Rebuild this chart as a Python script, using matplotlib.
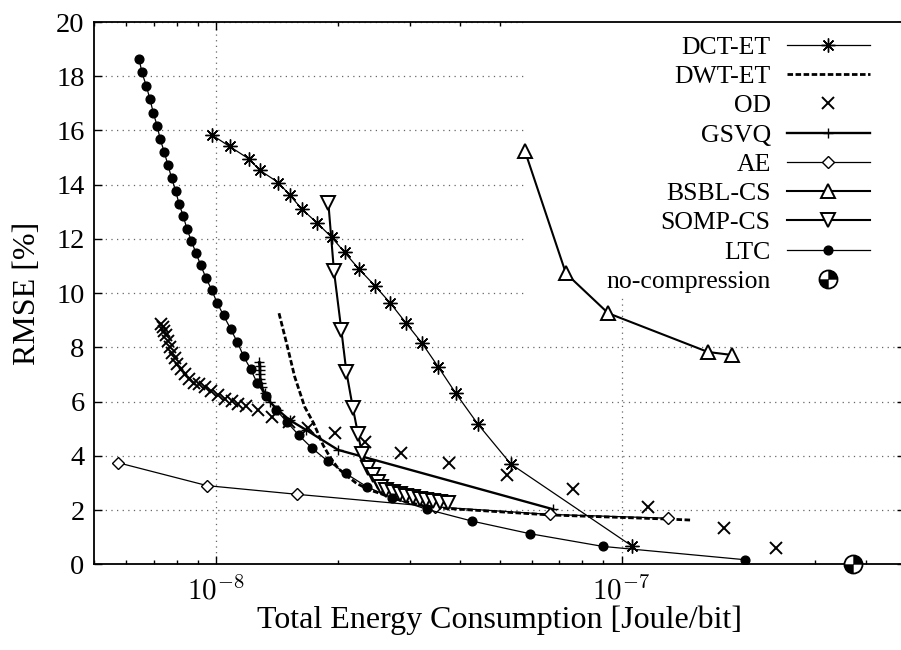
import numpy as np
import matplotlib
matplotlib.use('Agg')
import matplotlib.pyplot as plt
from matplotlib.path import Path
from matplotlib.patches import Rectangle
from matplotlib.legend_handler import HandlerTuple
import matplotlib.ticker as mticker

plt.rcParams['font.family'] = ['Liberation Serif', 'DejaVu Serif']
plt.rcParams['mathtext.fontset'] = 'cm'

# ---------------- data (x in Joule/bit, y in %) ----------------
dct_x = [9.74e-9, 1.079e-8, 1.204e-8, 1.281e-8, 1.422e-8, 1.520e-8, 1.624e-8, 1.769e-8,
         1.927e-8, 2.074e-8, 2.246e-8, 2.460e-8, 2.689e-8, 2.934e-8, 3.220e-8, 3.526e-8,
         3.898e-8, 4.426e-8, 5.330e-8, 1.062e-7]
dct_y = [15.84, 15.41, 14.95, 14.53, 14.08, 13.61, 13.11, 12.60, 12.06, 11.5, 10.9, 10.28,
         9.63, 8.91, 8.15, 7.29, 6.31, 5.16, 3.70, 0.67]

dwt_x = [1.428e-8, 1.491e-8, 1.561e-8, 1.652e-8, 1.739e-8, 1.834e-8, 1.905e-8, 1.997e-8,
         2.113e-8, 2.216e-8, 2.390e-8, 2.530e-8, 2.729e-8, 3.363e-8, 6.653e-8, 1.291e-7, 1.489e-7]
dwt_y = [9.26, 8.15, 6.92, 5.81, 5.20, 4.40, 3.97, 3.54, 3.23, 2.99, 2.74, 2.62, 2.43,
         2.10, 1.82, 1.67, 1.63]

od_x = [7.29e-9, 7.37e-9, 7.45e-9, 7.50e-9, 7.59e-9, 7.67e-9, 7.76e-9, 7.89e-9, 8.02e-9,
        8.16e-9, 8.35e-9, 8.54e-9, 8.79e-9, 9.04e-9, 9.36e-9, 9.68e-9, 1.009e-8, 1.048e-8,
        1.095e-8, 1.130e-8, 1.186e-8, 1.267e-8, 1.373e-8, 1.508e-8, 1.684e-8, 1.959e-8,
        2.324e-8, 2.862e-8, 3.752e-8, 5.219e-8, 7.595e-8, 1.163e-7, 1.792e-7, 2.408e-7]
od_y = [8.85, 8.75, 8.6, 8.45, 8.25, 8.0, 7.8, 7.6, 7.4, 7.2, 7.0, 6.85, 6.7, 6.65, 6.55,
        6.4, 6.24, 6.08, 6.03, 5.93, 5.84, 5.69, 5.44, 5.26, 5.02, 4.86, 4.50, 4.12, 3.72,
        3.29, 2.77, 2.10, 1.33, 0.59]

gsvq_x = [1.275e-8, 1.279e-8, 1.279e-8, 1.281e-8, 1.283e-8, 1.286e-8, 1.294e-8, 1.316e-8,
          1.354e-8, 1.417e-8, 1.517e-8, 1.668e-8, 1.997e-8, 6.778e-8]
gsvq_y = [7.45, 7.3, 7.15, 7.0, 6.85, 6.7, 6.55, 6.3, 6.0, 5.7, 5.32, 4.95, 4.22, 2.03]

ae_x = [5.71e-9, 9.50e-9, 1.585e-8, 3.46e-8, 6.65e-8, 1.299e-7]
ae_y = [3.75, 2.90, 2.58, 2.12, 1.84, 1.70]

bsbl_x = [5.77e-8, 7.29e-8, 9.27e-8, 1.634e-7, 1.872e-7]
bsbl_y = [15.26, 10.73, 9.26, 7.83, 7.72]

somp_x = [1.890e-8, 1.951e-8, 2.035e-8, 2.094e-8, 2.174e-8, 2.237e-8, 2.291e-8, 2.368e-8,
          2.436e-8, 2.506e-8, 2.555e-8, 2.629e-8, 2.729e-8, 2.835e-8, 2.945e-8, 3.058e-8,
          3.177e-8, 3.300e-8, 3.426e-8, 3.559e-8, 3.732e-8]
somp_y = [13.34, 10.83, 8.64, 7.10, 5.75, 4.81, 4.05, 3.54, 3.29, 3.05, 2.86, 2.74, 2.68,
          2.59, 2.52, 2.47, 2.42, 2.37, 2.34, 2.31, 2.25]

ltc_x = [6.45e-9, 6.55e-9, 6.72e-9, 6.86e-9, 6.99e-9, 7.14e-9, 7.27e-9, 7.44e-9, 7.60e-9,
         7.76e-9, 7.94e-9, 8.09e-9, 8.29e-9, 8.46e-9, 8.67e-9, 8.91e-9, 9.16e-9, 9.43e-9,
         9.75e-9, 1.004e-8, 1.042e-8, 1.085e-8, 1.127e-8, 1.168e-8, 1.215e-8, 1.262e-8,
         1.327e-8, 1.406e-8, 1.498e-8, 1.598e-8, 1.724e-8, 1.883e-8, 2.086e-8, 2.353e-8,
         2.709e-8, 3.306e-8, 4.287e-8, 5.937e-8, 8.99e-8, 2.012e-7]
ltc_y = [18.64, 18.15, 17.64, 17.15, 16.66, 16.18, 15.69, 15.20, 14.72, 14.24, 13.77, 13.30,
         12.84, 12.38, 11.94, 11.48, 11.02, 10.56, 10.11, 9.65, 9.18, 8.68, 8.19, 7.67, 7.20,
         6.68, 6.19, 5.69, 5.23, 4.76, 4.28, 3.81, 3.35, 2.86, 2.45, 2.03, 1.59, 1.13, 0.66, 0.17]

nocomp_x = [3.73e-7]
nocomp_y = [0.0]

labels = ['DCT-ET', 'DWT-ET', 'OD', 'GSVQ', 'AE', 'BSBL-CS', 'SOMP-CS', 'LTC', 'no-compression']
xtick_vals = [1e-8, 1e-7]
xtick_labels = [r'$10^{-8}$', r'$10^{-7}$']
ytick_vals = list(range(0, 21, 2))

# ---------------- figure ----------------
W, H = 901, 650
fig = plt.figure(figsize=(W / 100, H / 100), dpi=100)
L, R, T, B = 94.3, 904.8, 22.0, 564.3
ax = fig.add_axes([L / W, (H - B) / H, (R - L) / W, (B - T) / H])
ax.set_xscale('log')
ax.set_xlim(5e-9, 5e-7)
ax.set_ylim(0, 20)
ax.set_axisbelow(True)

ax.grid(True, which='major', color='0.4', linestyle=(0, (1, 3.5)), linewidth=0.9)

# white legend background hiding grid
ax.add_patch(Rectangle((0.534, 0.495), 0.5, 0.6, transform=ax.transAxes,
                       facecolor='white', edgecolor='none', zorder=1))

h_dct, = ax.plot(dct_x, dct_y, color='k', lw=0.9, marker=(8, 2, 0), ms=10, mew=1.0, zorder=3)
h_dwt, = ax.plot(dwt_x, dwt_y, color='k', lw=2.0, linestyle=(0, (2.0, 0.9)), zorder=3)
h_od, = ax.plot(od_x, od_y, color='k', linestyle='none', marker='x', ms=9, mew=1.4, zorder=3)
h_gsvq, = ax.plot(gsvq_x, gsvq_y, color='k', lw=1.7, marker='+', ms=7, mew=1.0, zorder=3)
h_ae, = ax.plot(ae_x, ae_y, color='k', lw=0.9, marker='D', ms=6.5, mfc='white', mec='k', mew=1.0, zorder=3)
h_bsbl, = ax.plot(bsbl_x, bsbl_y, color='k', lw=1.5, marker='^', ms=10.5, mfc='white', mec='k', mew=1.4, zorder=3)
h_somp, = ax.plot(somp_x, somp_y, color='k', lw=1.5, marker='v', ms=10, mfc='white', mec='k', mew=1.4, zorder=3)
h_ltc, = ax.plot(ltc_x, ltc_y, color='k', lw=0.9, marker='o', ms=6.3, zorder=3)

quad = Path.make_compound_path(Path.wedge(0, 90), Path.wedge(180, 270))
h_nc1, = ax.plot(nocomp_x, nocomp_y, linestyle='none', marker='o', ms=13, mfc='white', mec='k',
                 mew=1.3, zorder=6, clip_on=False)
h_nc2, = ax.plot(nocomp_x, nocomp_y, linestyle='none', marker=quad, ms=13, mfc='k', mec='k',
                 mew=0.3, zorder=7, clip_on=False)

# ticks
ax.set_xticks(xtick_vals)
ax.set_xticklabels(xtick_labels)
ax.xaxis.set_minor_locator(mticker.LogLocator(base=10, subs=np.arange(2, 10)))
ax.xaxis.set_minor_formatter(mticker.NullFormatter())
ax.set_yticks(ytick_vals)
ax.tick_params(which='both', direction='in', top=True, right=True, width=1.0)
ax.tick_params(which='major', length=6)
ax.tick_params(which='minor', length=3)
ax.tick_params(axis='y', labelsize=20.5, pad=7)
ax.tick_params(axis='x', labelsize=21, pad=9)
for s in ax.spines.values():
    s.set_linewidth(1.3)

ax.set_xlabel('Total Energy Consumption [Joule/bit]', fontsize=23, labelpad=0)
ax.set_ylabel('RMSE [%]', fontsize=23, labelpad=10)

leg = ax.legend([h_dct, h_dwt, h_od, h_gsvq, h_ae, h_bsbl, h_somp, h_ltc, (h_nc1, h_nc2)],
                labels, handler_map={tuple: HandlerTuple(ndivide=1)},
                loc='upper right', bbox_to_anchor=((885 - L) / (R - L), 1.003),
                markerfirst=False, frameon=False, fontsize=18.5, numpoints=1,
                handlelength=3.2, handletextpad=0.65, labelspacing=0.245,
                borderaxespad=0.3, borderpad=0.3)
leg.set_zorder(2)

fig.savefig('out.png', dpi=100)
